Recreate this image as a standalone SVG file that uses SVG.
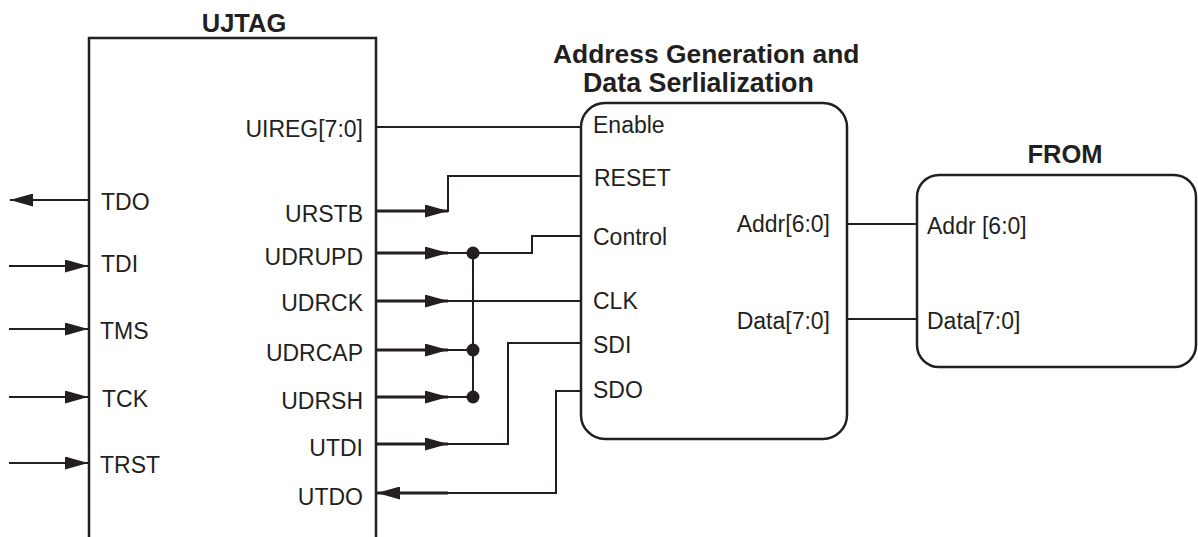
<svg xmlns="http://www.w3.org/2000/svg" width="1198" height="537" viewBox="0 0 1198 537">
<style>
.t{font-family:"Liberation Sans",Arial,sans-serif;font-size:23px;fill:#231f20}
.b{font-family:"Liberation Sans",Arial,sans-serif;font-weight:bold;font-size:25.5px;fill:#231f20}
.e{text-anchor:end}
.box{fill:none;stroke:#231f20;stroke-width:2.5}
.w{fill:none;stroke:#231f20;stroke-width:2}
.wt{fill:none;stroke:#231f20;stroke-width:3}
.dot{fill:#231f20}
</style>
<defs>
<marker id="arr" markerUnits="userSpaceOnUse" markerWidth="23" markerHeight="13" refX="23" refY="6.5" orient="auto" viewBox="0 0 23 13">
<path d="M0,0 L23,6.5 L0,13 z" fill="#231f20"/>
</marker>
</defs>
<rect width="1198" height="537" fill="#fff"/>
<g id="ujtag">
<path class="box" d="M89,537 V38 H376 V537"/>
<text class="b" x="244" y="32" text-anchor="middle">UJTAG</text>
<text class="t" x="101" y="210">TDO</text>
<text class="t" x="101" y="272">TDI</text>
<text class="t" x="100" y="339">TMS</text>
<text class="t" x="102" y="407">TCK</text>
<text class="t" x="100" y="473">TRST</text>
<text class="t e" x="363" y="137">UIREG[7:0]</text>
<text class="t e" x="363" y="221.5">URSTB</text>
<text class="t e" x="363" y="264.5">UDRUPD</text>
<text class="t e" x="363" y="310.5">UDRCK</text>
<text class="t e" x="363" y="360.5">UDRCAP</text>
<text class="t e" x="363" y="408.5">UDRSH</text>
<text class="t e" x="363" y="455.5">UTDI</text>
<text class="t e" x="363" y="504.5">UTDO</text>
</g>
<g id="addrgen">
<rect class="box" x="581" y="103" width="266" height="336" rx="24" ry="24"/>
<text class="b" x="553" y="63" style="font-size:26.4px">Address Generation and</text>
<text class="b" x="583" y="91.5" style="font-size:26.8px">Data Serlialization</text>
<text class="t" x="593" y="133">Enable</text>
<text class="t" x="594" y="186">RESET</text>
<text class="t" x="593" y="245">Control</text>
<text class="t" x="593" y="309">CLK</text>
<text class="t" x="593" y="352.5">SDI</text>
<text class="t" x="593" y="398">SDO</text>
<text class="t e" x="830" y="232">Addr[6:0]</text>
<text class="t e" x="830" y="329">Data[7:0]</text>
</g>
<g id="from">
<rect class="box" x="917" y="175" width="279" height="192" rx="22" ry="22"/>
<text class="b" x="1065" y="163" text-anchor="middle">FROM</text>
<text class="t" x="927" y="234">Addr [6:0]</text>
<text class="t" x="927" y="328.5">Data[7:0]</text>
</g>
<g id="connectors">
<line class="w" x1="89" y1="200" x2="10" y2="200" marker-end="url(#arr)"/>
<line class="w" x1="9" y1="266" x2="88" y2="266" marker-end="url(#arr)"/>
<line class="w" x1="9" y1="329" x2="88" y2="329" marker-end="url(#arr)"/>
<line class="w" x1="9" y1="397" x2="88" y2="397" marker-end="url(#arr)"/>
<line class="w" x1="9" y1="463" x2="88" y2="463" marker-end="url(#arr)"/>
<line class="w" x1="376" y1="127" x2="581" y2="127"/>
<line class="wt" x1="376" y1="211" x2="448" y2="211" marker-end="url(#arr)"/>
<path class="w" d="M448,212 V176 H581"/>
<line class="wt" x1="376" y1="253" x2="448" y2="253" marker-end="url(#arr)"/>
<path class="w" d="M448,253 H532 V236 H581"/>
<line class="wt" x1="376" y1="301" x2="448" y2="301" marker-end="url(#arr)"/>
<line class="w" x1="448" y1="301" x2="581" y2="301"/>
<line class="wt" x1="376" y1="350" x2="448" y2="350" marker-end="url(#arr)"/>
<line class="w" x1="448" y1="350" x2="473" y2="350"/>
<line class="wt" x1="376" y1="397" x2="448" y2="397" marker-end="url(#arr)"/>
<line class="w" x1="448" y1="397" x2="473" y2="397"/>
<line class="w" x1="473" y1="253" x2="473" y2="397"/>
<circle class="dot" cx="473" cy="253" r="6.5"/>
<circle class="dot" cx="473" cy="350" r="6.5"/>
<circle class="dot" cx="473" cy="397" r="6.5"/>
<line class="wt" x1="376" y1="444" x2="448" y2="444" marker-end="url(#arr)"/>
<path class="w" d="M448,444 H508 V343 H581"/>
<path class="w" d="M581,391 H556 V493 H448"/>
<line class="wt" x1="448" y1="493" x2="377" y2="493" marker-end="url(#arr)"/>
<line class="w" x1="847" y1="224" x2="917" y2="224"/>
<line class="w" x1="847" y1="319" x2="917" y2="319"/>
</g>
</svg>
